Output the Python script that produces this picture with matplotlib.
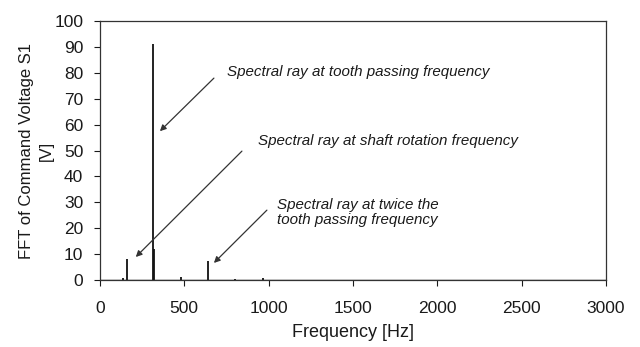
import matplotlib
matplotlib.use("Agg")
import matplotlib.pyplot as plt

# Spectral lines of the FFT of command voltage S1
freqs = [0, 140, 160, 314, 318, 480, 643, 800, 965]
amps = [30, 0.8, 8, 91, 12, 1.0, 7.5, 0.3, 0.6]

x_ticks = [0, 500, 1000, 1500, 2000, 2500, 3000]
y_ticks = [0, 10, 20, 30, 40, 50, 60, 70, 80, 90, 100]

notes = [
    "Spectral ray at tooth passing frequency",
    "Spectral ray at shaft rotation frequency",
    "Spectral ray at twice the\ntooth passing frequency",
]
note_xy = [(356, 57.5), (213, 8.9), (676, 6.6)]
note_text_xy = [(753, 80.3), (937, 53.7), (1049, 26.0)]
arrow_tail = [(676, 78), (842, 49.8), (990, 27)]

plt.rcParams["font.family"] = ["Liberation Sans", "DejaVu Sans"]

fig = plt.figure(figsize=(6.4, 3.47), dpi=100)
ax = fig.add_axes([0.156, 0.193, 0.791, 0.746])

ax.vlines(freqs, 0, amps, color="#111111", linewidth=1.3)
ax.plot([0, 3000], [0, 0], color="#222222", linewidth=1.0)

ax.set_xlim(0, 3000)
ax.set_ylim(0, 100)
ax.set_xticks(x_ticks)
ax.set_yticks(y_ticks)
ax.tick_params(axis="both", labelsize=12.5, colors="#1a1a1a", length=4,
               width=0.8, direction="out")
ax.tick_params(axis="x", pad=11)
ax.tick_params(axis="y", pad=8)
for s in ax.spines.values():
    s.set_color("#333333")
    s.set_linewidth(0.9)

ax.set_xlabel("Frequency [Hz]", fontsize=13, color="#1a1a1a", labelpad=6)
ax.set_ylabel("FFT of Command Voltage S1\n[V]", fontsize=12,
              color="#1a1a1a", labelpad=0, linespacing=1.4)

for txt, (tx, ty), (ax0, ay0), (hx, hy) in zip(notes, note_text_xy,
                                               arrow_tail, note_xy):
    ax.text(tx, ty, txt, fontsize=10.9, style="italic", color="#1a1a1a",
            ha="left", va="center", linespacing=1.1)
    ax.annotate("", xy=(hx, hy), xytext=(ax0, ay0),
                arrowprops=dict(arrowstyle="-|>", color="#333333", lw=0.9,
                                mutation_scale=9, shrinkA=0, shrinkB=0))

fig.savefig("out.png", dpi=100)
